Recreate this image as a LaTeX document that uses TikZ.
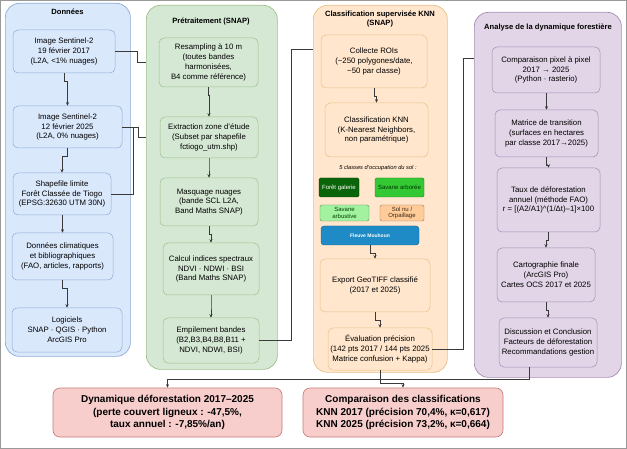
\documentclass[tikz,border=0pt]{standalone}
\usepackage{fontspec}
\setmainfont{Liberation Sans}
\usetikzlibrary{arrows.meta}

\definecolor{bluefill}{HTML}{DAE8FC}
\definecolor{blueline}{HTML}{8EAAD6}
\definecolor{greenfill}{HTML}{D5E8D4}
\definecolor{greenline}{HTML}{9CC28A}
\definecolor{orangefill}{HTML}{FFE6CC}
\definecolor{orangeline}{HTML}{E8C08A}
\definecolor{purplefill}{HTML}{E1D5E7}
\definecolor{purpleline}{HTML}{A78DB5}
\definecolor{redfill}{HTML}{F8CECC}
\definecolor{redline}{HTML}{C47A76}
\definecolor{linec}{HTML}{3A3A3A}
\definecolor{foretc}{HTML}{0A640A}
\definecolor{sarbc}{HTML}{34C934}
\definecolor{sarbuc}{HTML}{A3F2A0}
\definecolor{solnuc}{HTML}{FFCC99}
\definecolor{eauc}{HTML}{1E8AC6}

\tikzset{
  panel/.style={draw, rounded corners=14pt, line width=0.7pt, anchor=north west, inner sep=0pt},
  titre/.style={font=\bfseries\fontsize{7.6}{9}\selectfont, align=center, inner sep=1pt},
  etape/.style={draw, rounded corners=5pt, align=center, inner sep=2pt, line width=0.5pt,
    font=\fontsize{7.8}{9.8}\selectfont},
  classe/.style={draw, rounded corners=1.5pt, align=center, inner sep=0.5pt, line width=0.4pt,
    font=\fontsize{6}{6.5}\selectfont},
  resultat/.style={draw=redline, fill=redfill, rounded corners=7pt, align=center, line width=0.6pt,
    font=\bfseries\fontsize{10}{12.5}\selectfont, minimum height=49},
  fleche/.style={draw=linec, line width=0.6pt, -{Stealth[length=3.5pt,width=3pt]}},
  lien/.style={draw=linec, line width=0.6pt},
}

\begin{document}
\begin{tikzpicture}[x=1pt, y=-1pt]
  \useasboundingbox (0,0) rectangle (627,449);
  \draw[gray!80, line width=1pt] (0.5,0.5) rectangle (626.5,448.5);

  % colonnes
  \node[panel, fill=bluefill, draw=blueline, minimum width=125, minimum height=353] (donnees) at (5,3) {};
  \node[panel, fill=greenfill, draw=greenline, minimum width=131, minimum height=364] (pretrait) at (146,5) {};
  \node[panel, fill=orangefill, draw=orangeline, minimum width=134, minimum height=367] (knnc) at (313,5) {};
  \node[panel, fill=purplefill, draw=purpleline, minimum width=147, minimum height=365] (analyse) at (474,12) {};

  \node[titre] (tdonnees) at (67.5,12) {Données};
  \node[titre] (tpretrait) at (211,22) {Prétraitement (SNAP)};
  \node[titre] (tknn) at (380,19.5) {Classification supervisée KNN\\(SNAP)};
  \node[titre] (tanalyse) at (548,28) {Analyse de la dynamique forestière};

  % Données
  \begin{scope}[every node/.style={etape, fill=bluefill, draw=blueline}]
    \node[minimum width=102, minimum height=43] (img17) at (64,51.5) {Image Sentinel-2\\19 février 2017\\(L2A, <1\% nuages)};
    \node[minimum width=109, minimum height=42] (img25) at (67.5,127) {Image Sentinel-2\\12 février 2025\\(L2A, 0\% nuages)};
    \node[minimum width=98, minimum height=42] (shp) at (62,194) {Shapefile limite\\Forêt Classée de Tiogo\\(EPSG:32630 UTM 30N)};
    \node[minimum width=101, minimum height=47] (clim) at (62.5,256.5) {Données climatiques\\et bibliographiques\\(FAO, articles, rapports)};
    \node[minimum width=110, minimum height=44] (logi) at (67,330) {Logiciels\\SNAP · QGIS · Python\\ArcGIS Pro};
  \end{scope}

  % Prétraitement
  \begin{scope}[every node/.style={etape, fill=greenfill, draw=greenline}]
    \node[minimum width=99, minimum height=49] (resamp) at (208.5,62.5) {Resampling à 10 m\\(toutes bandes\\harmonisées,\\B4 comme référence)};
    \node[minimum width=98, minimum height=41] (extr) at (209,137.5) {Extraction zone d'étude\\(Subset par shapefile\\fctiogo\_utm.shp)};
    \node[minimum width=98, minimum height=48] (masq) at (209,202) {Masquage nuages\\(bande SCL L2A,\\Band Maths SNAP)};
    \node[minimum width=96, minimum height=52] (calc) at (211,269) {Calcul indices spectraux\\NDVI · NDWI · BSI\\(Band Maths SNAP)};
    \node[minimum width=96, minimum height=45] (empil) at (211,340.5) {Empilement bandes\\(B2,B3,B4,B8,B11 +\\NDVI, NDWI, BSI)};
  \end{scope}

  % Classification KNN
  \begin{scope}[every node/.style={etape, fill=orangefill, draw=orangeline}]
    \node[minimum width=106, minimum height=53] (roi) at (374,61.5) {Collecte ROIs\\(\textasciitilde250 polygones/date,\\\textasciitilde50 par classe)};
    \node[minimum width=103, minimum height=54] (knn) at (376.5,130) {Classification KNN\\(K-Nearest Neighbors,\\non paramétrique)};
    \node[minimum width=110, minimum height=53] (expo) at (375,285.5) {Export GeoTIFF classifié\\(2017 et 2025)};
    \node[minimum width=104, minimum height=42] (eval) at (380,349) {Évaluation précision\\(142 pts 2017 / 144 pts 2025\\Matrice confusion + Kappa)};
  \end{scope}
  \node[font=\itshape\fontsize{5.7}{6}\selectfont] (lclasses) at (378,168) {5 classes d'occupation du sol :};
  \node[classe, fill=foretc, draw=foretc!70!black, text=white, minimum width=40, minimum height=19] (foret) at (339,187.5) {Forêt galerie};
  \node[classe, fill=sarbc, draw=sarbc!60!black, text=black!80!green, minimum width=49, minimum height=19] (sarb) at (399.5,187.5) {Savane arborée};
  \node[classe, fill=sarbuc, draw=sarbuc!60!black, text=black!75!green, minimum width=49, minimum height=16] (sarbu) at (344.5,213) {Savane\\arbustive};
  \node[classe, fill=solnuc, draw=solnuc!60!black, text=black!70!brown, minimum width=44, minimum height=16] (solnu) at (402,213) {Sol nu /\\Orpaillage};
  \node[classe, fill=eauc, draw=eauc!70!black, text=white, font=\bfseries\fontsize{5}{6}\selectfont,
    rounded corners=3pt, minimum width=98, minimum height=19] (eau) at (370,235.5) {Fleuve Mouhoun};

  % Analyse
  \begin{scope}[every node/.style={etape, fill=purplefill, draw=purpleline}]
    \node[minimum width=108, minimum height=46] (comp) at (546,70) {Comparaison pixel à pixel\\2017 → 2025\\(Python · rasterio)};
    \node[minimum width=103, minimum height=47] (matr) at (546.5,133.5) {Matrice de transition\\(surfaces en hectares\\par classe 2017→2025)};
    \node[minimum width=103, minimum height=64] (taux) at (548.5,200) {Taux de déforestation\\annuel (méthode FAO)\\r = [(A2/A1)\textasciicircum(1/Δt)–1]×100};
    \node[minimum width=98, minimum height=54] (carto) at (546,275) {Cartographie finale\\(ArcGIS Pro)\\Cartes OCS 2017 et 2025};
    \node[minimum width=98, minimum height=49] (disc) at (548,342.5) {Discussion et Conclusion\\Facteurs de déforestation\\Recommandations gestion};
  \end{scope}

  % résultats
  \node[resultat, minimum width=229] (dyn) at (167.5,412.5) {Dynamique déforestation 2017–2025\\(perte couvert ligneux : -47,5\%,\\taux annuel : -7,85\%/an)};
  \node[resultat, minimum width=200] (compcl) at (403,412.5) {Comparaison des classifications\\KNN 2017 (précision 70,4\%, κ=0,617)\\KNN 2025 (précision 73,2\%, κ=0,664)};

  % flèches internes
  \foreach \a/\b in {img17/img25, img25/shp, shp/clim, clim/logi,
                     resamp/extr, extr/masq, masq/calc, calc/empil,
                     roi/knn, eau/expo, expo/eval,
                     comp/matr, matr/taux, taux/carto, carto/disc}
    \draw[fleche] (\a.south) -- ++(0,8) -| (\b.north);

  % liaisons entre colonnes
  \coordinate (j25) at ([xshift=11pt]img25.east);
  \coordinate (kin) at (313,49);
  \coordinate (ain) at (474,58);
  \draw[lien] (img17.east) -- ++(22,0) |- (pretrait.west |- resamp);
  \draw[lien] (img25.east) -- ++(16,0) |- (pretrait.west |- extr);
  \draw[lien] (shp.east) -| (j25);
  \draw[lien] (empil.east) -- ++(32,0) |- (kin);
  \draw[lien] (eval.east) -- ++(31,0) |- (ain);
  \draw[fleche] ([xshift=-19pt]disc.south) -- ++(0,12) -| (dyn.north);
  \draw[fleche] (eval.south) -- ++(0,13) -| (compcl.north);
\end{tikzpicture}
\end{document}
